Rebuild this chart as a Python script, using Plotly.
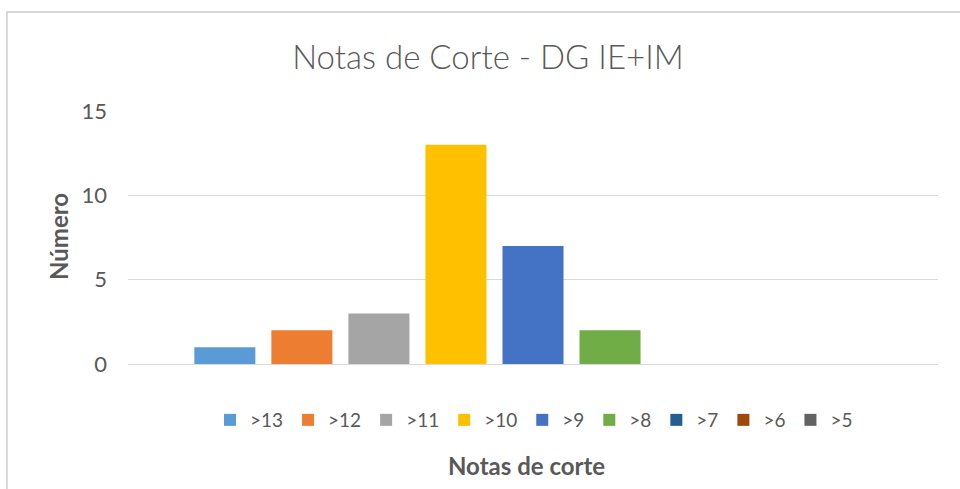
import plotly.graph_objects as go

categories = [""]
series_names = [">13", ">12", ">11", ">10", ">9", ">8", ">7", ">6", ">5"]
series_values = [1, 2, 3, 13, 7, 2, 0, 0, 0]
colors = ["#5B9BD5", "#ED7D31", "#A5A5A5", "#FFC000", "#4472C4",
          "#70AD47", "#255E91", "#9E480E", "#636363"]
y_ticks = [0, 5, 10, 15]

FONT = "Lato"
GREY = "#595959"

W, H = 960, 489
L, R, T, B = 128, 22, 111, 125
PW, PH = W - L - R, H - T - B

def px_x(px):
    return (px - L) / PW

def px_y(py):
    return (H - B - py) / PH

fig = go.Figure()
for name, val, col in zip(series_names, series_values, colors):
    fig.add_trace(go.Bar(x=categories, y=[val], name=name,
                         marker=dict(color=col, line=dict(width=0))))

fig.update_layout(
    width=W, height=H,
    margin=dict(l=L, r=R, t=T, b=B),
    paper_bgcolor="white", plot_bgcolor="white",
    barmode="group", bargap=0.144, bargroupgap=0.208,
    font=dict(family=FONT, color=GREY, size=19),
    title=dict(text="Notas de Corte - DG IE+IM", x=488 / W, xanchor="center",
               y=1 - 57 / H, yanchor="middle", yref="container",
               font=dict(family=FONT, size=33, color=GREY, weight=300)),
    showlegend=True,
    legend=dict(orientation="h", x=px_x(534), xanchor="center",
                y=px_y(401), yanchor="top", font=dict(size=19, color=GREY),
                bgcolor="rgba(0,0,0,0)", traceorder="normal"),
    xaxis=dict(showticklabels=False, showgrid=False, zeroline=False,
               showline=False, ticks=""),
    yaxis=dict(range=[0, 15], tickvals=y_ticks, showgrid=True,
               gridcolor="#D9D9D9", gridwidth=1, zeroline=True,
               zerolinecolor="#D9D9D9", zerolinewidth=1, showline=False,
               ticks="", ticklabelstandoff=20,
               tickfont=dict(size=22, color=GREY)),
    annotations=[
        dict(text="<b>Número</b>", textangle=-90, xref="paper", yref="paper",
             x=px_x(58), y=px_y(237), xanchor="center", yanchor="middle",
             showarrow=False, font=dict(size=24, color=GREY, family=FONT)),
        dict(text="<b>Notas de corte</b>", xref="paper", yref="paper",
             x=px_x(526), y=px_y(465), xanchor="center", yanchor="middle",
             showarrow=False, font=dict(size=24, color=GREY, family=FONT)),
    ],
    shapes=[
        dict(type="line", xref="paper", yref="paper",
             x0=px_x(7), x1=px_x(7), y0=px_y(11), y1=px_y(489),
             line=dict(color="#D9D9D9", width=2)),
        dict(type="line", xref="paper", yref="paper",
             x0=px_x(6), x1=px_x(960), y0=px_y(12), y1=px_y(12),
             line=dict(color="#D9D9D9", width=2)),
    ],
)

fig.write_html("out.html",
               config={"displayModeBar": False},
               post_script="document.body.style.margin='0px';"
                           "document.body.style.overflow='hidden';")
